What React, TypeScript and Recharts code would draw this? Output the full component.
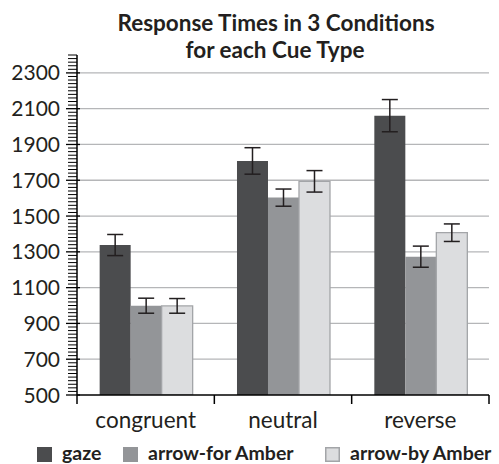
import React from 'react';
import { BarChart, Bar, XAxis, YAxis, CartesianGrid, ErrorBar, Legend } from 'recharts';

const categories = ['congruent', 'neutral', 'reverse'];
const gaze = [1338, 1808, 2061];
const arrowFor = [999, 1603, 1273];
const arrowBy = [998, 1694, 1407];
const gazeErr = [59, 74, 90];
const arrowForErr = [42, 48, 59];
const arrowByErr = [41, 60, 49];
const majorTicks = [500, 700, 900, 1100, 1300, 1500, 1700, 1900, 2100, 2300];
const gridTicks = [700, 900, 1100, 1300, 1500, 1700, 1900, 2100, 2300];
const yDomain = [500, 2400];
const minorStep = 20;
const allTicks: number[] = [];
for (let v = yDomain[0]; v <= yDomain[1]; v += minorStep) allTicks.push(v);

const seriesNames = ['gaze', 'arrow-for Amber', 'arrow-by Amber'];
const colors = ['#4b4c4e', '#939598', '#dcdddf'];
const strokes = ['#4b4c4e', '#939598', '#a3a5a8'];

const data = categories.map((c, i) => ({
  name: c,
  gaze: gaze[i],
  arrowFor: arrowFor[i],
  arrowBy: arrowBy[i],
  gazeErr: gazeErr[i],
  arrowForErr: arrowForErr[i],
  arrowByErr: arrowByErr[i],
}));

const W = 499;
const H = 464;
const margin = { top: 55, right: 10, bottom: 0, left: 0 };
const yAxisWidth = 77;
const xAxisHeight = 40;
const legendHeight = 29;
const plotWidth = W - margin.left - margin.right - yAxisWidth;
const plotHeight = H - margin.top - margin.bottom - xAxisHeight - legendHeight;
const band = plotWidth / categories.length;
const yToPx = (v: number) => margin.top + ((yDomain[1] - v) / (yDomain[1] - yDomain[0])) * plotHeight;
const FONT = 'Lato, "Open Sans", sans-serif';

const YTick = (props: any) => {
  const { x, y, payload } = props;
  const v = payload.value;
  const major = majorTicks.includes(v);
  return (
    <g>
      {major ? (
        <line x1={x - 11} x2={x + 3} y1={y} y2={y} stroke="#000" strokeWidth={1.3} />
      ) : (
        <line x1={x - 9} x2={x} y1={y} y2={y} stroke="#000" strokeWidth={1} />
      )}
      {major && (
        <text x={x - 17} y={y} dy="0.36em" textAnchor="end" fontFamily={FONT} fontSize={21} fill="#231f20">
          {v}
        </text>
      )}
    </g>
  );
};

const XTick = (props: any) => {
  const { x, y, payload, index } = props;
  return (
    <g>
      <line x1={x - band / 2} x2={x - band / 2} y1={y} y2={y + 9} stroke="#000" strokeWidth={1.5} />
      {index === categories.length - 1 && (
        <line x1={x + band / 2} x2={x + band / 2} y1={y} y2={y + 9} stroke="#000" strokeWidth={1.5} />
      )}
      <text x={x} y={y + 33} textAnchor="middle" fontFamily={FONT} fontSize={22.5} fill="#231f20">
        {payload.value}
      </text>
    </g>
  );
};

const legendLefts = [37, 123, 325];

const LegendContent = () => (
  <svg width={W} height={legendHeight} style={{ display: 'block', overflow: 'visible' }}>
    {seriesNames.map((n, i) => (
      <g key={n}>
        <rect
          x={legendLefts[i] + (i === 2 ? 0.75 : 0)}
          y={12 + (i === 2 ? 0.75 : 0)}
          width={i === 2 ? 13.5 : 15}
          height={i === 2 ? 13.5 : 15}
          fill={colors[i]}
          stroke={i === 2 ? strokes[i] : 'none'}
          strokeWidth={1.5}
        />
        <text x={legendLefts[i] + 25} y={24.5} fontFamily={FONT} fontWeight={700} fontSize={19.5} fill="#231f20">
          {n}
        </text>
      </g>
    ))}
  </svg>
);

export default function App() {
  return (
    <div style={{ position: 'absolute', left: 0, top: 0, width: W, height: H, background: '#fff' }}>
      <svg width={W} height={70} style={{ position: 'absolute', left: 0, top: 0 }}>
        <text x={276} y={31} textAnchor="middle" fontFamily={FONT} fontWeight={700} fontSize={22.5} fill="#231f20">
          Response Times in 3 Conditions
        </text>
        <text x={275} y={58} textAnchor="middle" fontFamily={FONT} fontWeight={700} fontSize={22.5} fill="#231f20">
          for each Cue Type
        </text>
      </svg>
      <div style={{ position: 'absolute', left: 0, top: 0 }}>
        <BarChart width={W} height={H} data={data} margin={margin} barCategoryGap="16.5%" barGap={0}>
          <CartesianGrid
            vertical={false}
            stroke="#b5b6b8"
            strokeWidth={1.3}
            horizontalPoints={gridTicks.map(yToPx)}
          />
          <XAxis
            dataKey="name"
            height={xAxisHeight}
            tickSize={0}
            tickMargin={0}
            tickLine={false}
            axisLine={{ stroke: '#000', strokeWidth: 1.5 }}
            tick={<XTick />}
          />
          <YAxis
            width={yAxisWidth}
            domain={yDomain}
            ticks={allTicks}
            interval={0}
            allowDataOverflow
            tickSize={0}
            tickMargin={0}
            tickLine={false}
            axisLine={{ stroke: '#000', strokeWidth: 1.5 }}
            tick={<YTick />}
          />
          <Legend
            verticalAlign="bottom"
            height={legendHeight}
            content={<LegendContent />}
            wrapperStyle={{ left: 0, width: W, height: legendHeight, bottom: 0 }}
          />
          <Bar dataKey="gaze" name={seriesNames[0]} fill={colors[0]} isAnimationActive={false}>
            <ErrorBar dataKey="gazeErr" width={8} stroke="#231f20" strokeWidth={1.5} isAnimationActive={false} />
          </Bar>
          <Bar dataKey="arrowFor" name={seriesNames[1]} fill={colors[1]} isAnimationActive={false}>
            <ErrorBar dataKey="arrowForErr" width={8} stroke="#231f20" strokeWidth={1.5} isAnimationActive={false} />
          </Bar>
          <Bar dataKey="arrowBy" name={seriesNames[2]} fill={colors[2]} stroke={strokes[2]} strokeWidth={1.3} isAnimationActive={false}>
            <ErrorBar dataKey="arrowByErr" width={8} stroke="#231f20" strokeWidth={1.5} isAnimationActive={false} />
          </Bar>
        </BarChart>
      </div>
    </div>
  );
}
